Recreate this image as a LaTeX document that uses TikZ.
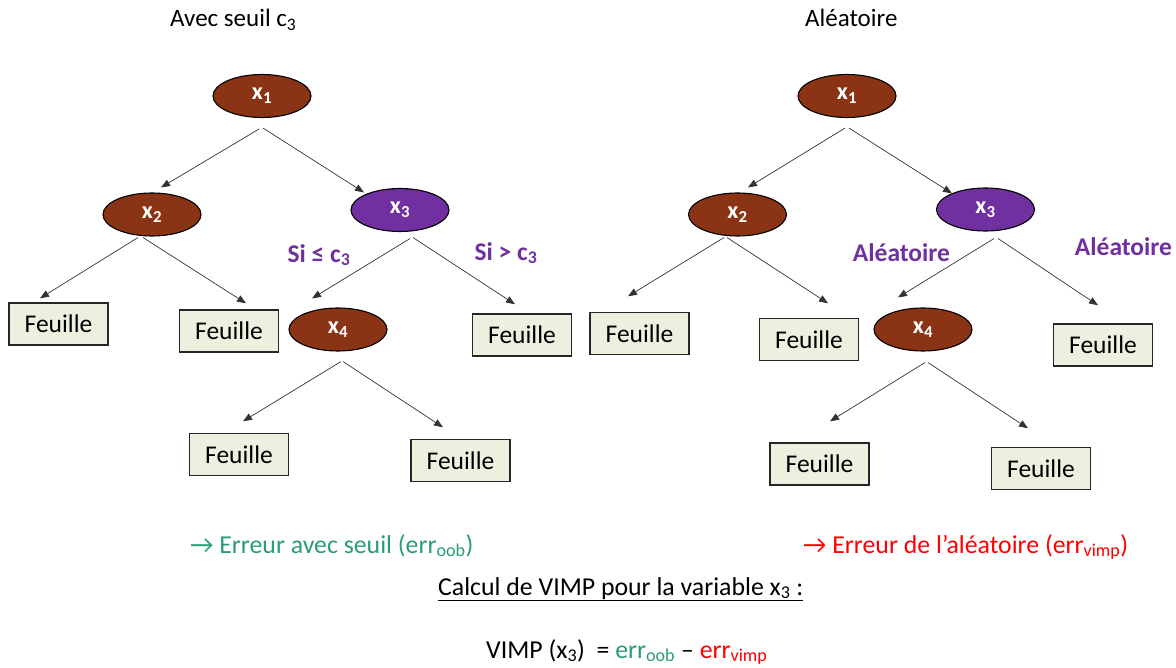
\documentclass[tikz,border=0pt]{standalone}
\usepackage{fontspec}
\setmainfont{Carlito}
\usetikzlibrary{shapes.geometric,arrows.meta,calc}
\definecolor{brownnode}{HTML}{8A3415}
\definecolor{purplenode}{HTML}{7030A0}
\definecolor{leaffill}{HTML}{EBF1DE}
\definecolor{errgreen}{HTML}{2A9D78}
\definecolor{errred}{HTML}{FF0000}
\begin{document}
\begin{tikzpicture}[x=1pt,y=-1pt,
  var/.style={ellipse, draw=black, line width=1.1pt, fill=brownnode, minimum width=98pt, minimum height=43pt, inner sep=0pt, text=white, font=\fontsize{24}{24}\selectfont\bfseries},
  varsel/.style={var, fill=purplenode},
  leaf/.style={rectangle, draw=black!85, line width=1.4pt, fill=leaffill, minimum width=99pt, minimum height=42pt, inner sep=0pt, font=\fontsize{25.5}{25.5}\selectfont},
  arr/.style={draw=black!80, line width=0.7pt, -{Triangle[length=9pt,width=7pt]}},
  cond/.style={text=purplenode, font=\fontsize{25.5}{25.5}\selectfont\bfseries, inner sep=0pt},
  titletxt/.style={font=\fontsize{25}{25}\selectfont, inner sep=0pt, anchor=base west},
  errtxt/.style={font=\fontsize{25.8}{25.8}\selectfont, inner sep=0pt, anchor=base west}]
\useasboundingbox (0,0) rectangle (1176,668);
\fill[white] (0,0) rectangle (1176,668);

% ---------- left tree ----------
\node[titletxt] (tA) at (170,27) {Avec seuil c\textsubscript{3}};
\node[var] (a1) at (262,96) {x\textsubscript{1}};
\node[var] (a2) at (152,214.5) {x\textsubscript{2}};
\node[varsel] (a3) at (400,210) {x\textsubscript{3}};
\node[var] (a4) at (338,329.5) {x\textsubscript{4}};
\node[leaf] (aL1) at (58.5,324) {Feuille};
\node[leaf] (aL2) at (229,331) {Feuille};
\node[leaf] (aL3) at (522,335) {Feuille};
\node[leaf] (aL4) at (239,454.5) {Feuille};
\node[leaf] (aL5) at (460.5,460.5) {Feuille};
\node[cond] (aC1) at (319,255) {Si ≤ c\textsubscript{3}};
\node[cond] (aC2) at (506,253) {Si > c\textsubscript{3}};

\draw[arr] ($(a1.south)+(-3,11)$) -- ($(a2.north)+(9,-5)$);
\draw[arr] ($(a1.south)+(1,10)$) -- ($(a3.north)+(-36,4.5)$);
\draw[arr] ($(a2.south)+(-14,1)$) -- ($(aL1.north)+(-18.5,-4)$);
\draw[arr] ($(a2.south)+(-9,1)$) -- ($(aL2.north)+(17,-6)$);
\draw[arr] ($(a3.south)+(10,6.5)$) -- ($(a4.north)+(-26,-9)$);
\draw[arr] ($(a3.south)+(13,5.5)$) -- ($(aL3.north)+(-7,-9)$);
\draw[arr] ($(a4.south)+(3,10)$) -- ($(aL4.north)+(4,-11.5)$);
\draw[arr] ($(a4.south)+(5,10)$) -- ($(aL5.north)+(-17.5,-11.5)$);

% ---------- right tree ----------
\node[titletxt] (tB) at (805,27) {Aléatoire};
\node[var] (b1) at (847,96) {x\textsubscript{1}};
\node[var] (b2) at (737.5,214.5) {x\textsubscript{2}};
\node[varsel] (b3) at (985.5,209.5) {x\textsubscript{3}};
\node[var] (b4) at (923,329.5) {x\textsubscript{4}};
\node[leaf] (bL1) at (639.5,333.5) {Feuille};
\node[leaf] (bL2) at (809,339.5) {Feuille};
\node[leaf] (bL3) at (1103,345) {Feuille};
\node[leaf] (bL4) at (819.5,464) {Feuille};
\node[leaf] (bL5) at (1041,468.5) {Feuille};
\node[cond] (bC1) at (901.5,253) {Aléatoire};
\node[cond] (bC2) at (1123.5,247) {Aléatoire};

\draw[arr] ($(b1.south)+(-2,10)$) -- ($(b2.north)+(10.5,-5)$);
\draw[arr] ($(b1.south)+(2,10)$) -- ($(b3.north)+(-33.5,6)$);
\draw[arr] ($(b2.south)+(-13.5,1)$) -- ($(bL1.north)+(-11.5,-15.5)$);
\draw[arr] ($(b2.south)+(-10.5,1)$) -- ($(bL2.north)+(19,-14.5)$);
\draw[arr] ($(b3.south)+(8.5,7)$) -- ($(b4.north)+(-25,-10)$);
\draw[arr] ($(b3.south)+(12.5,7)$) -- ($(bL3.north)+(-5,-18)$);
\draw[arr] ($(b4.south)+(2,11)$) -- ($(bL4.north)+(10.5,-21)$);
\draw[arr] ($(b4.south)+(5,11)$) -- ($(bL5.north)+(-13,-18.5)$);

% ---------- bottom texts ----------
\node[errtxt, text=errgreen] (eA) at (190,553) {→ Erreur avec seuil (err\textsubscript{oob})};
\node[errtxt, text=errred] (eB) at (803,553) {→ Erreur de l’aléatoire (err\textsubscript{vimp})};
\node[errtxt] (calc) at (438,595) {\underline{Calcul de VIMP pour la variable x\textsubscript{3} :}};
\node[errtxt] (vimp) at (486,658) {VIMP (x\textsubscript{3})\ \ = \textcolor{errgreen}{err\textsubscript{oob}} – \textcolor{errred}{err\textsubscript{vimp}}};
\end{tikzpicture}
\end{document}
